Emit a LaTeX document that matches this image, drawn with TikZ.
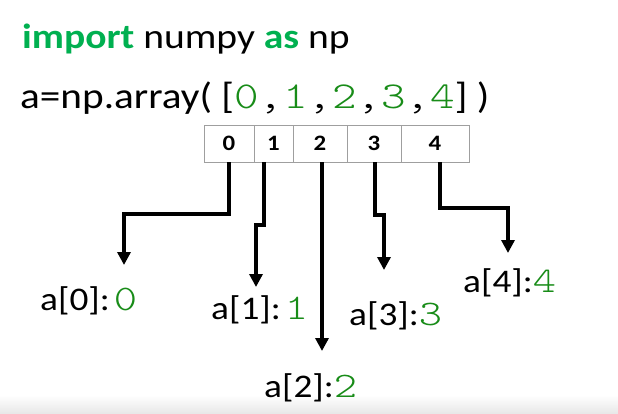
\documentclass[tikz,border=0pt]{standalone}
\usepackage{fontspec}
\setmainfont{Carlito}[FakeStretch=1.13]
\newfontfamily\monof{lmmonolt10-regular.otf}[FakeStretch=1.23]
\usetikzlibrary{arrows.meta}
\definecolor{kwgreen}{RGB}{0,176,80}
\definecolor{numgreen}{RGB}{24,140,24}
\newcommand{\gnum}[1]{{\monof\fontsize{36}{40}\selectfont\textcolor{numgreen}{#1}}}
\begin{document}
\begin{tikzpicture}[x=1pt,y=-1pt,
  txt/.style={inner sep=0pt, anchor=base west, font=\fontsize{35}{40}\selectfont},
  lbl/.style={inner sep=0pt, anchor=base west, font=\fontsize{33}{38}\selectfont},
  cellbox/.style={draw=gray!75, line width=0.8pt, inner sep=0pt, minimum height=37pt,
    font=\fontsize{22}{22}\selectfont\bfseries},
  arr/.style={line width=3.8pt, -{Triangle[length=13pt,width=13pt]}}]
\useasboundingbox (0,0) rectangle (618,413);
\fill[white] (0,0) rectangle (618,413);
\shade[top color=white, bottom color=gray!18] (0,395) rectangle (618,413);

% code lines
\node[txt] (line1) at (22,48) {\textcolor{kwgreen}{\bfseries import} numpy \textcolor{kwgreen}{\bfseries as} np};
\node[txt, font=\fontsize{36.5}{40}\selectfont] (line2) at (20,108) {a=np.array( [{\monof\fontsize{38}{40}\selectfont\textcolor{numgreen}{0},\textcolor{numgreen}{1},\textcolor{numgreen}{2},\textcolor{numgreen}{3},\textcolor{numgreen}{4}}] )};

% array cells
\node[cellbox, minimum width=50pt] (c0) at (229,143.5) {0};
\node[cellbox, minimum width=39pt] (c1) at (273.5,143.5) {1};
\node[cellbox, minimum width=54pt] (c2) at (320,143.5) {2};
\node[cellbox, minimum width=54pt] (c3) at (374,143.5) {3};
\node[cellbox, minimum width=68pt] (c4) at (435,143.5) {4};

% labels
\node[lbl] (l0) at (40,310) {a[0]:\hspace{4pt}\gnum{0}};
\node[lbl] (l1) at (211,319) {a[1]:\hspace{4pt}\gnum{1}};
\node[lbl] (l2) at (264,397) {a[2]:\gnum{2}};
\node[lbl] (l3) at (349,325) {a[3]:\gnum{3}};
\node[lbl] (l4) at (463,292) {a[4]:\gnum{4}};

% bend points and tips
\coordinate (j0) at (124,214);
\coordinate (t0) at (124,265);
\coordinate (j1) at (256,225);
\coordinate (t1) at (256,287);
\coordinate (t2) at (322,351);
\coordinate (j3) at (384,215);
\coordinate (t3) at (384,270);
\coordinate (j4) at (508,208);
\coordinate (t4) at (508,253);

% connectors
\draw[arr] (c0.south) |- (j0) -- (t0);
\draw[arr] ([xshift=-9.5pt]c1.south) |- (j1) -- (t1);
\draw[arr] ([xshift=2pt]c2.south) -- (t2);
\draw[arr] ([xshift=1pt]c3.south) |- (j3) -- (t3);
\draw[arr] ([xshift=5pt]c4.south) |- (j4) -- (t4);
\end{tikzpicture}
\end{document}
